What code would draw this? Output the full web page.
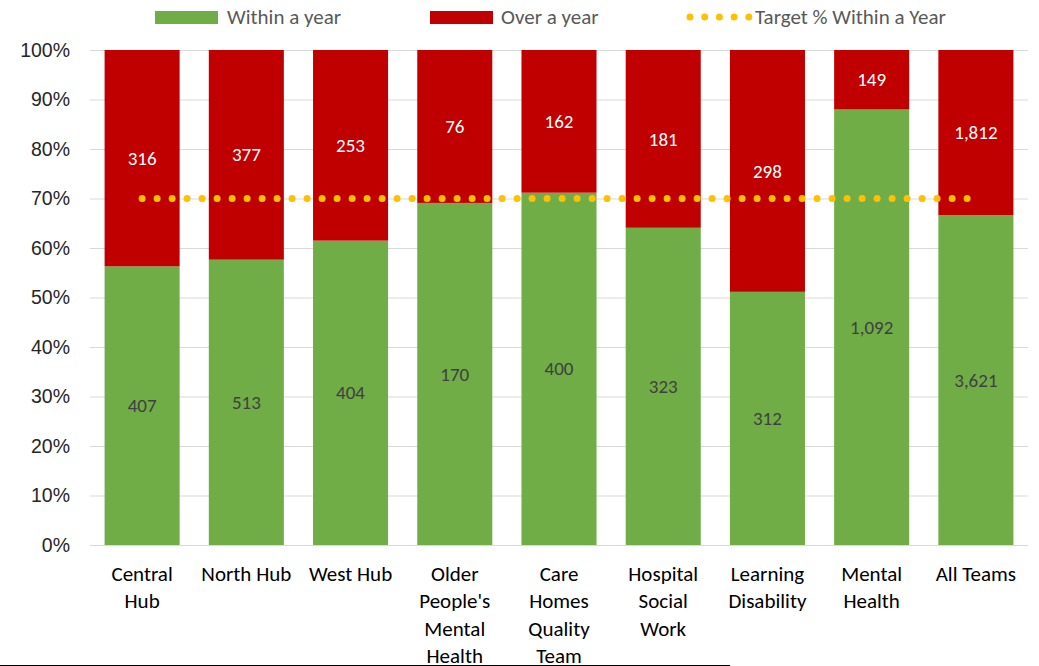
<!DOCTYPE html>
<html>
<head>
<meta charset="utf-8">
<script src="https://cdn.jsdelivr.net/npm/d3@7"></script>
<style>
	body { margin: 0; background: #fff; }
	svg { font-family: Carlito, Calibri, Lato, 'Open Sans', sans-serif; }
</style>
</head>
<body>
<div id="chart"></div>
<script>
// Data

const teams = [
	['Central', 'Hub'],
	['North Hub'],
	['West Hub'],
	['Older', "People's", 'Mental', 'Health'],
	['Care', 'Homes', 'Quality', 'Team'],
	['Hospital', 'Social', 'Work'],
	['Learning', 'Disability'],
	['Mental', 'Health'],
	['All Teams'],
];
const withinYear = [407, 513, 404, 170, 400, 323, 312, 1092, 3621];
const overYear = [316, 377, 253, 76, 162, 181, 298, 149, 1812];
const target = 0.7;
const yTicks = [0, 0.1, 0.2, 0.3, 0.4, 0.5, 0.6, 0.7, 0.8, 0.9, 1];

const dat = teams.map((t, i) => {
	const total = withinYear[i] + overYear[i];
	return {
		name: t.join(' '),
		lines: t,
		within: withinYear[i],
		over: overYear[i],
		pWithin: withinYear[i] / total,
	};
});

// Measurements

const W = 1039;
const H = 666;
const margin = { top: 50, right: 11, bottom: 121, left: 90 };
const width = W - margin.left - margin.right;
const height = H - margin.top - margin.bottom;

const green = '#70ad47';
const red = '#c00000';
const gold = '#ffc000';

const svg = d3
	.select('#chart')
	.append('svg')
	.attr('width', W)
	.attr('height', H);

// Scales

const xscale = d3
	.scaleBand()
	.domain(dat.map((d) => d.name))
	.range([margin.left, margin.left + width])
	.paddingInner(0.28)
	.paddingOuter(0.14);

const yscale = d3
	.scaleLinear()
	.domain([0, 1])
	.range([margin.top + height, margin.top]);

// Gridlines + y axis

const leftAxis = d3
	.axisLeft(yscale)
	.tickValues(yTicks)
	.tickFormat(d3.format('.0%'))
	.tickSize(-width)
	.tickPadding(20);

const yAxis = svg
	.append('g')
	.attr('transform', `translate(${margin.left}, 0)`)
	.call(leftAxis);
yAxis.select('.domain').remove();
yAxis.selectAll('line').attr('stroke', '#d9d9d9');
yAxis
	.selectAll('text')
	.attr('fill', '#262626')
	.style('font-size', '19.5px');

// Bars

const bars = svg.append('g');

bars
	.selectAll('rect.within')
	.data(dat)
	.enter()
	.append('rect')
	.attr('class', 'within')
	.attr('x', (d) => xscale(d.name))
	.attr('y', (d) => yscale(d.pWithin))
	.attr('width', xscale.bandwidth())
	.attr('height', (d) => yscale(0) - yscale(d.pWithin))
	.attr('fill', green);

bars
	.selectAll('rect.over')
	.data(dat)
	.enter()
	.append('rect')
	.attr('class', 'over')
	.attr('x', (d) => xscale(d.name))
	.attr('y', yscale(1))
	.attr('width', xscale.bandwidth())
	.attr('height', (d) => yscale(d.pWithin) - yscale(1))
	.attr('fill', red);

// Bar labels

const fmt = d3.format(',');

svg
	.append('g')
	.selectAll('text')
	.data(dat)
	.enter()
	.append('text')
	.attr('x', (d) => xscale(d.name) + xscale.bandwidth() / 2)
	.attr('y', (d) => (yscale(0) + yscale(d.pWithin)) / 2)
	.attr('dy', '0.35em')
	.attr('text-anchor', 'middle')
	.attr('fill', '#404040')
	.style('font-size', '19px')
	.text((d) => fmt(d.within));

svg
	.append('g')
	.selectAll('text')
	.data(dat)
	.enter()
	.append('text')
	.attr('x', (d) => xscale(d.name) + xscale.bandwidth() / 2)
	.attr('y', (d) => (yscale(1) + yscale(d.pWithin)) / 2)
	.attr('dy', '0.35em')
	.attr('text-anchor', 'middle')
	.attr('fill', '#fff')
	.style('font-size', '19px')
	.text((d) => fmt(d.over));

// Target line (dotted)

const x0 = xscale(dat[0].name) + xscale.bandwidth() / 2;
const x1 = xscale(dat[dat.length - 1].name) + xscale.bandwidth() / 2;

svg
	.append('line')
	.attr('x1', x0)
	.attr('x2', x1)
	.attr('y1', yscale(target))
	.attr('y2', yscale(target))
	.attr('stroke', gold)
	.attr('stroke-width', 7)
	.attr('stroke-linecap', 'round')
	.attr('stroke-dasharray', '0 15');

// X labels

const xLabels = svg
	.append('g')
	.selectAll('text')
	.data(dat)
	.enter()
	.append('text')
	.attr('x', (d) => xscale(d.name) + xscale.bandwidth() / 2)
	.attr('y', margin.top + height + 36)
	.attr('text-anchor', 'middle')
	.attr('fill', '#000')
	.style('font-size', '21px');

xLabels
	.selectAll('tspan')
	.data((d) => d.lines.map((l) => ({ l, x: xscale(d.name) + xscale.bandwidth() / 2 })))
	.enter()
	.append('tspan')
	.attr('x', (d) => d.x)
	.attr('dy', (d, i) => (i === 0 ? 0 : 27.3))
	.text((d) => d.l);

// Legend

const legend = svg.append('g').style('font-size', '21px');

legend.append('rect').attr('x', 155).attr('y', 11).attr('width', 63).attr('height', 13).attr('fill', green);
legend.append('text').attr('x', 227).attr('y', 17).attr('dy', '0.35em').attr('fill', '#595959').text('Within a year');

legend.append('rect').attr('x', 430).attr('y', 11).attr('width', 63).attr('height', 13).attr('fill', red);
legend.append('text').attr('x', 501).attr('y', 17).attr('dy', '0.35em').attr('fill', '#595959').text('Over a year');

legend
	.append('line')
	.attr('x1', 690)
	.attr('x2', 749)
	.attr('y1', 17)
	.attr('y2', 17)
	.attr('stroke', gold)
	.attr('stroke-width', 7)
	.attr('stroke-linecap', 'round')
	.attr('stroke-dasharray', '0 14.7');
legend.append('text').attr('x', 755).attr('y', 17).attr('dy', '0.35em').attr('fill', '#595959').text('Target % Within a Year');

// bottom rule
svg.append('line').attr('x1', 0).attr('x2', 730).attr('y1', 665.5).attr('y2', 665.5).attr('stroke', '#000');
</script>
</body>
</html>
